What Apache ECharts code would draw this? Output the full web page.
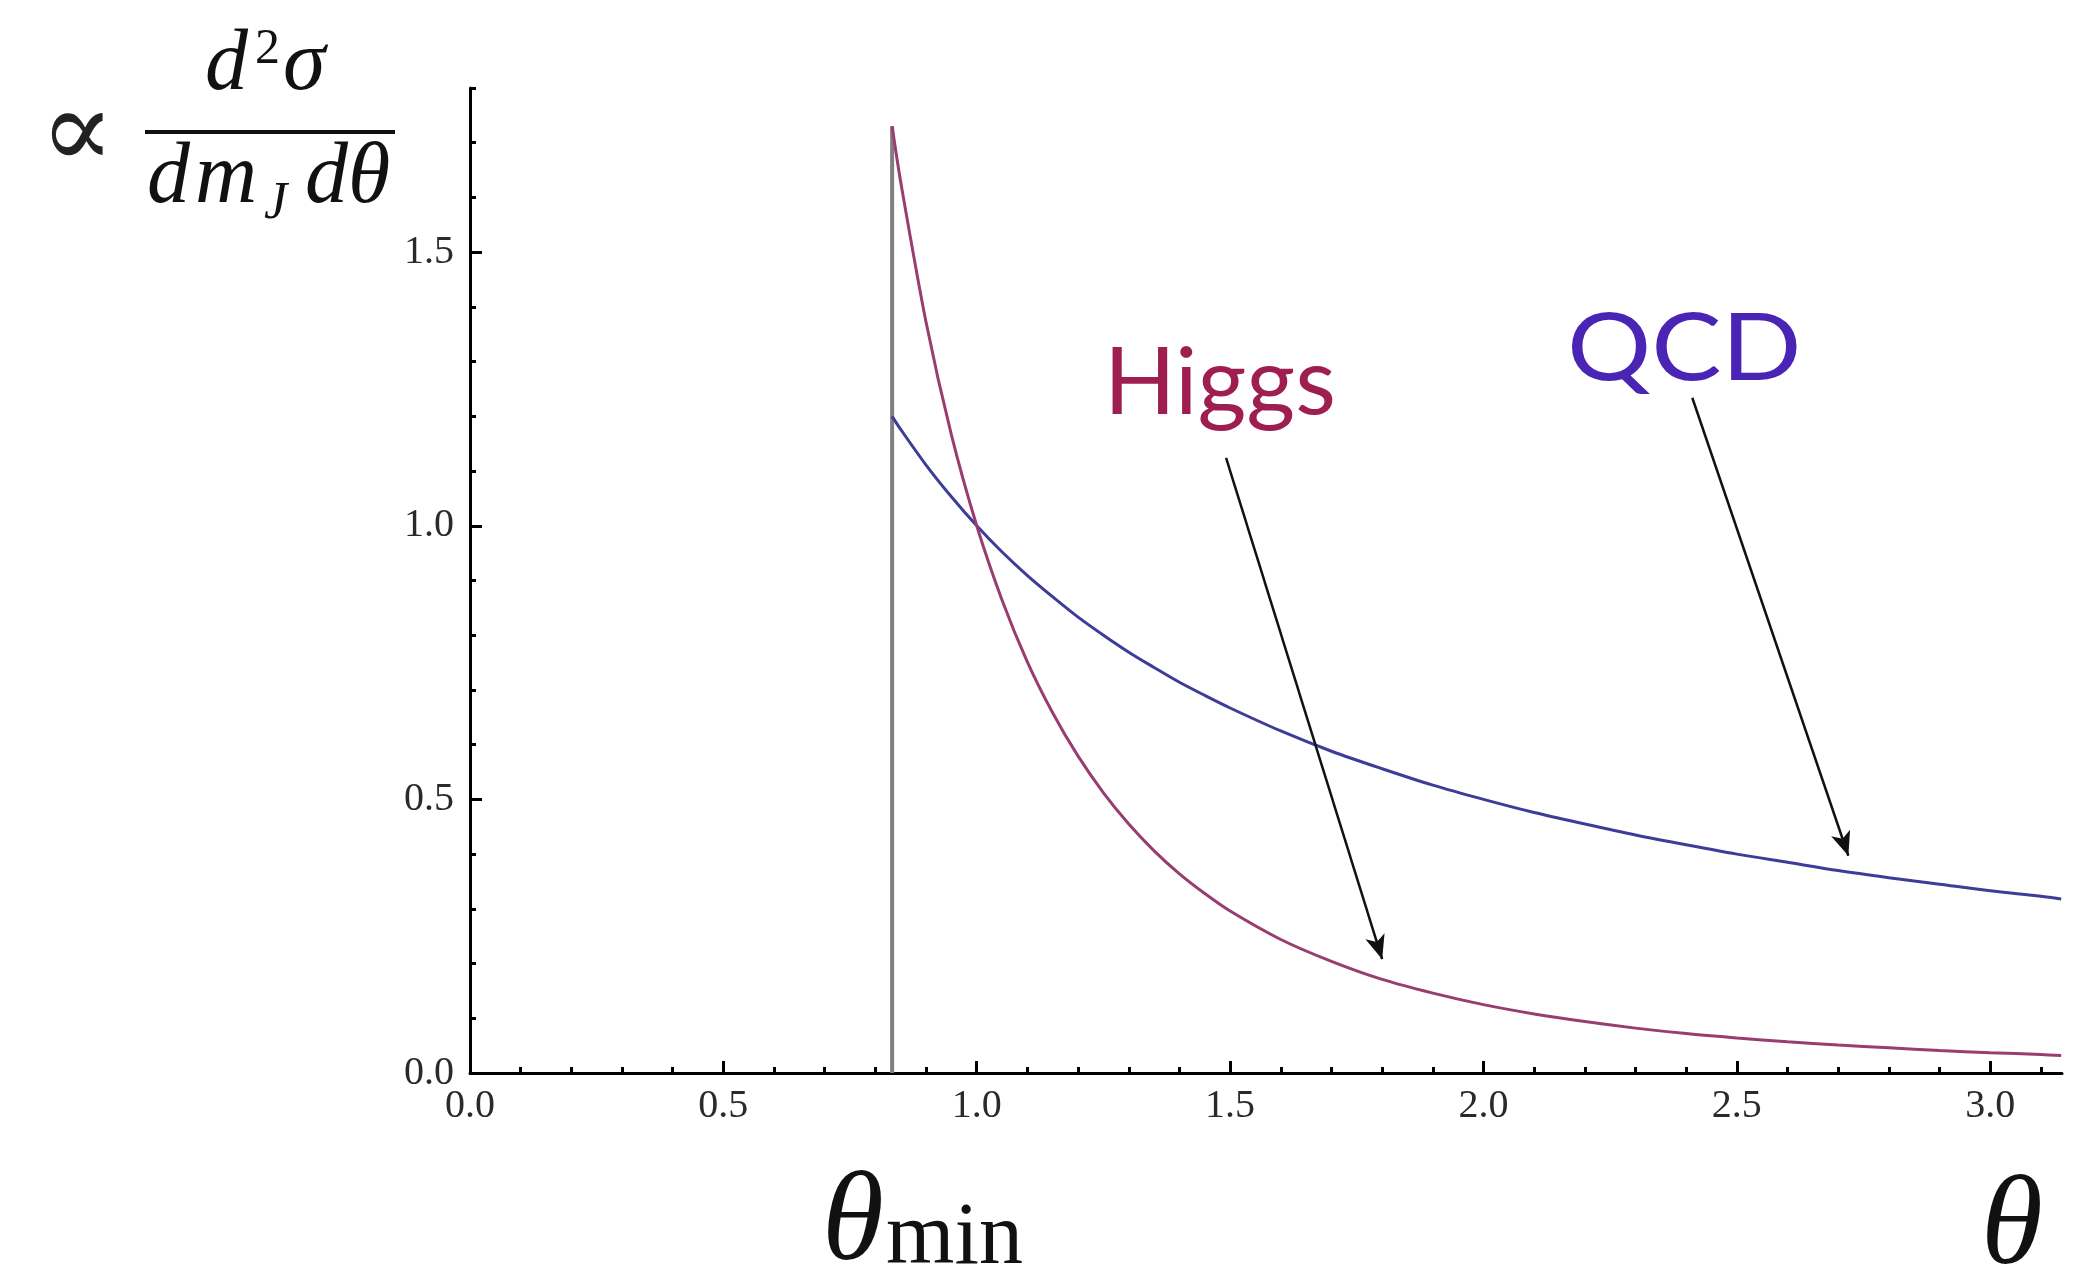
<!DOCTYPE html>
<html>
<head>
<meta charset="utf-8">
<title>Jet mass distribution vs opening angle</title>
<script src="https://cdn.jsdelivr.net/npm/echarts@6/dist/echarts.min.js"></script>
<style>
  html, body { margin: 0; padding: 0; background: #ffffff; }
  #chart { width: 2089px; height: 1269px; }
</style>
</head>
<body>
<div id="chart"></div>
<script>
// Opening angle samples (radians) and the two distributions
const thetaGrid = [0.833, 0.85, 0.9, 0.95, 1.0, 1.05, 1.1, 1.15, 1.2, 1.25, 1.3, 1.35, 1.4, 1.45, 1.5, 1.6, 1.7, 1.8,
                   1.9, 2.0, 2.1, 2.2, 2.3, 2.4, 2.5, 2.6, 2.7, 2.8, 2.9, 3.0, 3.1, 3.14];
const higgsValues = [1.73, 1.628, 1.372, 1.166, 1.0, 0.864, 0.751, 0.658, 0.579, 0.512, 0.455, 0.406, 0.364, 0.328, 0.296, 0.244, 0.204, 0.171,
                     0.146, 0.125, 0.108, 0.094, 0.082, 0.072, 0.064, 0.057, 0.051, 0.046, 0.041, 0.037, 0.034, 0.032];
const qcdValues = [1.2, 1.176, 1.111, 1.053, 1.0, 0.952, 0.909, 0.870, 0.833, 0.8, 0.769, 0.741, 0.714, 0.690, 0.667, 0.625, 0.588, 0.556,
                   0.526, 0.5, 0.476, 0.455, 0.435, 0.417, 0.4, 0.385, 0.370, 0.357, 0.345, 0.333, 0.323, 0.318];

// Lower cut on the angle
const thetaMin = 0.833;
const thetaMinTop = 1.73;

// Axis ticks
const xMax = Math.PI;
const yMax = 1.8;
const xMajorTicks = [0, 0.5, 1.0, 1.5, 2.0, 2.5, 3.0];
const yMajorTicks = [0, 0.5, 1.0, 1.5];
const xMinorTicks = [];
for (let i = 1; i <= 31; i++) { if (i % 5 !== 0) xMinorTicks.push(i / 10); }
const yMinorTicks = [];
for (let i = 1; i <= 18; i++) { if (i % 5 !== 0) yMinorTicks.push(i / 10); }

// Annotation arrows: [start, head] in (theta, value)
const higgsArrow = [[1.492, 1.124], [1.80, 0.208]];
const qcdArrow = [[2.412, 1.234], [2.72, 0.397]];

const pairs = (xs, ys) => xs.map((x, i) => [x, ys[i]]);

const HIGGS_COLOR = '#993d71';
const QCD_COLOR = '#3d3d99';
const SERIF = '"Liberation Serif", "DejaVu Serif", serif';
const SANS = 'Lato, "Open Sans", sans-serif';

const chart = echarts.init(document.getElementById('chart'), null, { renderer: 'canvas' });

const tickLabel = { fontFamily: SERIF, fontSize: 40, color: '#2a2a2a' };
const tickLine = { color: '#000', width: 3 };

const option = {
  backgroundColor: '#ffffff',
  animation: false,
  grid: { left: 470, right: 27, top: 88, bottom: 196, containLabel: false, outerBoundsMode: 'none' },
  xAxis: [
    {
      type: 'value', min: 0, max: xMax, interval: 0.5, position: 'bottom',
      axisLine: { show: true, onZero: false, lineStyle: { color: '#000', width: 3 } },
      axisTick: { show: true, inside: true, length: 12, lineStyle: tickLine, customValues: xMajorTicks },
      axisLabel: { show: true, margin: 13, customValues: xMajorTicks, formatter: v => v.toFixed(1), ...tickLabel },
      splitLine: { show: false }
    },
    {
      type: 'value', min: 0, max: xMax, position: 'bottom',
      axisLine: { show: false, onZero: false },
      axisTick: { show: true, inside: true, length: 6, lineStyle: tickLine, customValues: xMinorTicks },
      axisLabel: { show: false },
      splitLine: { show: false }
    }
  ],
  yAxis: [
    {
      type: 'value', min: 0, max: yMax, interval: 0.5, position: 'left',
      axisLine: { show: true, onZero: false, lineStyle: { color: '#000', width: 3 } },
      axisTick: { show: true, inside: true, length: 12, lineStyle: tickLine, customValues: yMajorTicks },
      axisLabel: { show: true, margin: 16, customValues: yMajorTicks, formatter: v => v.toFixed(1), ...tickLabel },
      splitLine: { show: false }
    },
    {
      type: 'value', min: 0, max: yMax, position: 'left',
      axisLine: { show: false, onZero: false },
      axisTick: { show: true, inside: true, length: 6, lineStyle: tickLine, customValues: yMinorTicks },
      axisLabel: { show: false },
      splitLine: { show: false }
    }
  ],
  series: [
    {
      name: 'theta_min',
      type: 'line',
      xAxisIndex: 0, yAxisIndex: 0,
      data: [[thetaMin, 0], [thetaMin, thetaMinTop]],
      showSymbol: false,
      lineStyle: { color: '#7f7f7f', width: 4 },
      z: 1,
      markLine: {
        silent: true,
        symbol: ['none', 'arrow'],
        symbolSize: [15, 24],
        label: { show: false },
        lineStyle: { color: '#111', width: 2.5, type: 'solid' },
        emphasis: { disabled: true },
        data: [
          [{ coord: higgsArrow[0] }, { coord: higgsArrow[1] }],
          [{ coord: qcdArrow[0] }, { coord: qcdArrow[1] }]
        ]
      }
    },
    {
      name: 'QCD',
      type: 'line',
      xAxisIndex: 0, yAxisIndex: 0,
      data: pairs(thetaGrid, qcdValues),
      showSymbol: false,
      smooth: 0.3,
      lineStyle: { color: QCD_COLOR, width: 3 },
      z: 3
    },
    {
      name: 'Higgs',
      type: 'line',
      xAxisIndex: 0, yAxisIndex: 0,
      data: pairs(thetaGrid, higgsValues),
      showSymbol: false,
      smooth: 0.3,
      lineStyle: { color: HIGGS_COLOR, width: 3 },
      z: 4
    }
  ],
  graphic: [
    // y-axis title: ∝ d²σ / (dm_J dθ)
    { type: 'text', x: 40, y: 138, style: { text: '\u221D', font: '110px ' + SERIF, fill: '#222', align: 'left', verticalAlign: 'middle' } },
    { type: 'text', x: 205, y: 66, style: { text: 'd', font: 'italic 86px ' + SERIF, fill: '#111', align: 'left', verticalAlign: 'middle' } },
    { type: 'text', x: 255, y: 50, style: { text: '2', font: '50px ' + SERIF, fill: '#111', align: 'left', verticalAlign: 'middle' } },
    { type: 'text', x: 283, y: 66, style: { text: '\u03C3', font: 'italic 86px ' + SERIF, fill: '#111', align: 'left', verticalAlign: 'middle' } },
    { type: 'rect', shape: { x: 145, y: 130, width: 250, height: 4 }, style: { fill: '#111' } },
    { type: 'text', x: 147, y: 179, style: { text: 'd', font: 'italic 86px ' + SERIF, fill: '#111', align: 'left', verticalAlign: 'middle' } },
    { type: 'text', x: 195, y: 179, style: { text: 'm', font: 'italic 86px ' + SERIF, fill: '#111', align: 'left', verticalAlign: 'middle' } },
    { type: 'text', x: 264, y: 204, style: { text: 'J', font: 'italic 52px ' + SERIF, fill: '#111', align: 'left', verticalAlign: 'middle' } },
    { type: 'text', x: 305, y: 179, style: { text: 'd\u03B8', font: 'italic 86px ' + SERIF, fill: '#111', align: 'left', verticalAlign: 'middle' } },

    // x-axis annotations
    { type: 'text', x: 822, y: 1226, style: { text: '\u03B8', font: 'italic 126px ' + SERIF, fill: '#111', align: 'left', verticalAlign: 'middle' } },
    { type: 'text', x: 886, y: 1240, style: { text: 'min', font: '88px ' + SERIF, fill: '#111', align: 'left', verticalAlign: 'middle' } },
    { type: 'text', x: 1981, y: 1230, style: { text: '\u03B8', font: 'italic 126px ' + SERIF, fill: '#111', align: 'left', verticalAlign: 'middle' } },

    // curve labels
    { type: 'text', x: 1104, y: 384, style: { text: 'Higgs', font: '94px ' + SANS, fill: '#9e1f4f', align: 'left', verticalAlign: 'middle' } },
    { type: 'text', x: 1567, y: 350, scaleX: 1.12, style: { text: 'QCD', font: '94px ' + SANS, fill: '#4a24b4', align: 'left', verticalAlign: 'middle' } }
  ]
};

chart.setOption(option);
</script>
</body>
</html>
